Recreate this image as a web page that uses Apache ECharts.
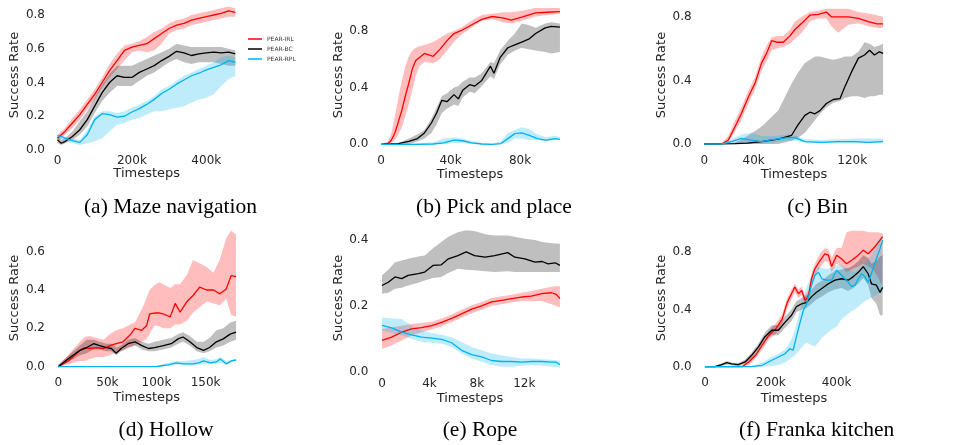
<!DOCTYPE html>
<html><head><meta charset="utf-8">
<script src="https://cdn.jsdelivr.net/npm/echarts@6/dist/echarts.min.js"></script>
<style>html,body{margin:0;padding:0;background:#fff}#c{width:977px;height:445px}</style>
</head><body><div id="c"></div>
<script>
// ---------- DATA (x in thousands of timesteps): [x, mean, lower, upper] ----------
const seriesNames = ['PEAR-IRL', 'PEAR-BC', 'PEAR-RPL'];

const mazeIRL = [[0,0.07,0.05,0.09],[10,0.09,0.07,0.11],[20,0.11,0.09,0.13],[40,0.16,0.13,0.19],[60,0.21,0.18,0.24],[80,0.27,0.24,0.30],[100,0.33,0.30,0.36],[120,0.40,0.37,0.43],[140,0.47,0.43,0.51],[160,0.53,0.48,0.57],[180,0.59,0.53,0.62],[200,0.61,0.58,0.63],[220,0.62,0.59,0.645],[240,0.63,0.58,0.67],[260,0.66,0.59,0.70],[280,0.69,0.63,0.72],[300,0.72,0.69,0.75],[320,0.74,0.71,0.77],[340,0.75,0.72,0.78],[360,0.77,0.74,0.80],[380,0.78,0.75,0.81],[400,0.79,0.76,0.82],[420,0.80,0.77,0.83],[440,0.81,0.78,0.84],[460,0.825,0.79,0.85],[478,0.815,0.79,0.84]];
const mazeBC = [[0,0.06,0.04,0.08],[10,0.04,0.03,0.06],[20,0.05,0.04,0.07],[40,0.08,0.06,0.11],[60,0.12,0.09,0.17],[80,0.18,0.14,0.23],[100,0.26,0.22,0.31],[120,0.34,0.29,0.39],[140,0.40,0.34,0.45],[160,0.44,0.38,0.50],[180,0.43,0.38,0.50],[200,0.43,0.38,0.50],[220,0.46,0.41,0.52],[240,0.48,0.44,0.54],[260,0.50,0.46,0.56],[280,0.53,0.49,0.58],[300,0.555,0.52,0.60],[320,0.585,0.54,0.63],[340,0.575,0.52,0.62],[360,0.56,0.51,0.61],[380,0.57,0.52,0.61],[400,0.575,0.52,0.61],[420,0.58,0.52,0.61],[440,0.575,0.51,0.61],[460,0.58,0.50,0.60],[478,0.57,0.50,0.59]];
const mazeRPL = [[0,0.085,0.07,0.09],[10,0.08,0.06,0.09],[20,0.07,0.05,0.08],[40,0.055,0.04,0.07],[60,0.045,0.03,0.06],[80,0.09,0.04,0.12],[100,0.18,0.05,0.20],[120,0.215,0.07,0.23],[140,0.21,0.11,0.23],[160,0.195,0.15,0.22],[180,0.20,0.16,0.23],[200,0.225,0.18,0.25],[220,0.245,0.19,0.27],[240,0.27,0.21,0.29],[260,0.30,0.23,0.32],[280,0.335,0.23,0.36],[300,0.36,0.24,0.38],[320,0.39,0.25,0.41],[340,0.415,0.26,0.44],[360,0.44,0.28,0.46],[380,0.455,0.30,0.48],[400,0.475,0.31,0.50],[420,0.49,0.33,0.52],[440,0.505,0.38,0.55],[460,0.53,0.42,0.56],[478,0.52,0.44,0.55]];

const pickIRL = [[0,0,0,0],[4,0.005,0,0.02],[6,0.03,0.01,0.08],[8,0.08,0.03,0.20],[10,0.16,0.07,0.33],[12,0.24,0.12,0.45],[14,0.34,0.20,0.55],[16,0.43,0.28,0.62],[18,0.53,0.38,0.66],[20,0.59,0.48,0.68],[22,0.61,0.55,0.69],[25,0.64,0.58,0.70],[30,0.62,0.57,0.72],[34,0.67,0.60,0.75],[38,0.73,0.66,0.78],[42,0.78,0.72,0.80],[46,0.80,0.77,0.82],[52,0.84,0.82,0.87],[58,0.88,0.87,0.91],[64,0.90,0.88,0.92],[70,0.89,0.86,0.93],[75,0.875,0.85,0.93],[81,0.895,0.87,0.94],[89,0.925,0.90,0.96],[96,0.93,0.91,0.96],[103,0.935,0.92,0.96]];
const pickBC = [[0,0,0,0],[10,0.005,0,0.01],[16,0.02,0,0.04],[21,0.04,0.02,0.07],[25,0.08,0.04,0.10],[29,0.15,0.08,0.18],[32,0.22,0.14,0.26],[35,0.31,0.22,0.34],[38,0.30,0.25,0.36],[42,0.35,0.28,0.40],[44.5,0.32,0.27,0.41],[47,0.38,0.33,0.44],[51,0.42,0.37,0.47],[54,0.41,0.36,0.47],[58,0.45,0.41,0.50],[63,0.55,0.48,0.58],[65,0.50,0.46,0.57],[68.5,0.61,0.56,0.66],[73,0.68,0.63,0.73],[77,0.70,0.66,0.78],[81,0.72,0.68,0.85],[85,0.74,0.67,0.84],[89,0.78,0.66,0.82],[94.5,0.82,0.65,0.85],[98,0.83,0.64,0.86],[103,0.825,0.65,0.85]];
const pickRPL = [[0,0,0,0],[20,0,0,0.005],[30,0.002,0,0.015],[36,0.01,0,0.04],[42,0.03,0.01,0.05],[47,0.025,0.01,0.04],[52,0.01,0,0.025],[58,0.002,0,0.01],[64,0,0,0.005],[69,0.005,0,0.02],[73,0.04,0.01,0.08],[77,0.075,0.04,0.10],[81,0.08,0.04,0.12],[85,0.065,0.03,0.11],[90,0.04,0.03,0.07],[95,0.03,0.02,0.05],[100,0.04,0.03,0.06],[103,0.035,0.03,0.05]];

const binIRL = [[0,0,0,0],[14,0,0,0.005],[19.5,0.025,0.01,0.05],[25,0.11,0.08,0.15],[30,0.19,0.15,0.23],[36,0.30,0.26,0.34],[41,0.38,0.34,0.42],[46.5,0.51,0.46,0.55],[50.5,0.57,0.52,0.62],[54.6,0.65,0.59,0.67],[58.6,0.64,0.60,0.68],[64,0.64,0.61,0.68],[69.5,0.68,0.63,0.72],[73.5,0.72,0.66,0.77],[79,0.76,0.70,0.80],[85.7,0.81,0.77,0.83],[92.4,0.815,0.79,0.84],[99,0.83,0.79,0.85],[103,0.80,0.74,0.85],[108.6,0.80,0.70,0.85],[116.8,0.80,0.75,0.85],[125,0.79,0.76,0.83],[133,0.77,0.74,0.82],[140,0.755,0.73,0.81],[145,0.755,0.73,0.80]];
const binBC = [[0,0,0,0],[25,0.002,0,0.01],[35,0.005,0,0.05],[46.5,0.015,0,0.11],[60,0.03,0,0.21],[70.8,0.055,0.02,0.38],[76,0.12,0.04,0.45],[81.6,0.18,0.07,0.51],[85.7,0.20,0.11,0.53],[89.7,0.19,0.15,0.55],[93.8,0.21,0.19,0.55],[99,0.255,0.23,0.54],[104.6,0.28,0.26,0.53],[110,0.285,0.27,0.54],[114,0.36,0.29,0.55],[119.5,0.455,0.30,0.55],[125,0.54,0.30,0.58],[130,0.56,0.29,0.64],[134,0.59,0.30,0.63],[138,0.56,0.30,0.61],[142,0.58,0.31,0.62],[145,0.57,0.31,0.63]];
const binRPL = [[0,0,0,0],[14,0,0,0.005],[22,0.015,0,0.03],[30,0.035,0.01,0.06],[38,0.025,0,0.07],[46.5,0.015,0,0.05],[57,0.03,0.01,0.05],[68,0.04,0.02,0.06],[73.5,0.04,0.02,0.055],[81.6,0.015,0.01,0.03],[95,0.01,0.005,0.025],[108.6,0.015,0.005,0.03],[122,0.015,0.005,0.035],[133,0.01,0.005,0.035],[145,0.015,0.01,0.035]];

const hollowIRL = [[0,0,0,0.01],[8.5,0.025,0.01,0.05],[15,0.05,0.02,0.09],[22,0.085,0.03,0.13],[27,0.10,0.03,0.155],[32,0.095,0.04,0.16],[39,0.10,0.05,0.15],[46,0.095,0.05,0.14],[52.6,0.11,0.06,0.17],[59,0.12,0.075,0.19],[66,0.13,0.085,0.20],[73,0.165,0.10,0.22],[78,0.20,0.11,0.23],[85,0.19,0.13,0.30],[90,0.215,0.145,0.36],[93,0.275,0.17,0.40],[98,0.28,0.215,0.425],[103,0.28,0.21,0.44],[107,0.275,0.20,0.43],[114,0.26,0.20,0.41],[119,0.33,0.22,0.43],[124,0.285,0.22,0.43],[131,0.34,0.24,0.48],[137,0.37,0.28,0.555],[144,0.415,0.31,0.54],[151,0.40,0.34,0.52],[158,0.40,0.33,0.49],[164.6,0.38,0.32,0.56],[171,0.405,0.355,0.67],[176,0.475,0.27,0.71],[181,0.47,0.26,0.69]];
const hollowBC = [[0,0,0,0.01],[8.5,0.035,0.02,0.05],[15,0.06,0.04,0.08],[22,0.085,0.06,0.11],[29,0.10,0.07,0.14],[36,0.12,0.09,0.14],[42,0.11,0.09,0.13],[49,0.10,0.08,0.12],[54,0.095,0.08,0.12],[59,0.07,0.06,0.10],[64,0.095,0.08,0.11],[71,0.12,0.10,0.14],[78,0.13,0.11,0.15],[85,0.11,0.09,0.13],[92,0.095,0.08,0.12],[98,0.10,0.08,0.13],[107,0.11,0.09,0.14],[115,0.12,0.10,0.15],[122,0.145,0.12,0.17],[127,0.155,0.13,0.18],[134,0.13,0.11,0.16],[141,0.10,0.08,0.13],[148,0.085,0.07,0.13],[154,0.10,0.08,0.15],[161,0.13,0.10,0.19],[168,0.145,0.11,0.20],[175,0.17,0.13,0.23],[181,0.18,0.14,0.24]];
const hollowRPL = [[0,0,0,0],[100,0,0,0.002],[105,0.005,0,0.01],[112,0.01,0.005,0.02],[120,0.02,0.01,0.03],[128,0.015,0.01,0.03],[137,0.015,0.005,0.035],[143,0.02,0.01,0.04],[148,0.03,0.015,0.05],[155,0.02,0.015,0.035],[161,0.025,0.015,0.04],[165,0.04,0.02,0.05],[171,0.015,0.01,0.03],[176,0.03,0.02,0.035],[181,0.035,0.03,0.04]];

const ropeIRL = [[0,0.095,0.07,0.13],[0.81,0.105,0.08,0.135],[1.66,0.12,0.095,0.14],[2.5,0.13,0.11,0.145],[3.34,0.134,0.12,0.148],[4.19,0.14,0.128,0.152],[5.03,0.15,0.138,0.162],[5.87,0.162,0.15,0.174],[6.71,0.176,0.164,0.188],[7.56,0.19,0.178,0.202],[8.4,0.20,0.188,0.212],[9.24,0.212,0.2,0.224],[10.08,0.217,0.205,0.229],[10.93,0.222,0.21,0.234],[11.77,0.227,0.215,0.24],[12.6,0.23,0.215,0.245],[13.46,0.237,0.215,0.252],[14.3,0.24,0.205,0.258],[14.7,0.235,0.2,0.26],[15,0.222,0.195,0.26]];
const ropeBC = [[0,0.262,0.237,0.293],[0.53,0.272,0.24,0.31],[1.1,0.288,0.252,0.333],[1.66,0.283,0.255,0.338],[2.2,0.293,0.262,0.343],[3.06,0.298,0.27,0.35],[3.6,0.303,0.277,0.353],[4.3,0.323,0.285,0.375],[5.0,0.325,0.288,0.394],[5.6,0.343,0.30,0.41],[6.4,0.353,0.313,0.424],[7.1,0.364,0.31,0.43],[7.8,0.353,0.308,0.428],[8.7,0.348,0.305,0.418],[9.5,0.353,0.303,0.414],[10.6,0.362,0.305,0.414],[11.2,0.348,0.303,0.41],[12.05,0.343,0.303,0.404],[12.9,0.333,0.303,0.40],[13.5,0.335,0.303,0.394],[14.0,0.328,0.303,0.392],[14.6,0.331,0.303,0.39],[15,0.323,0.303,0.389]];
const ropeRPL = [[0,0.141,0.125,0.165],[0.81,0.133,0.118,0.162],[1.66,0.12,0.11,0.16],[2.5,0.112,0.10,0.14],[3.34,0.105,0.09,0.125],[4.19,0.102,0.088,0.118],[5.03,0.098,0.085,0.112],[5.87,0.088,0.075,0.105],[6.71,0.065,0.055,0.09],[7.56,0.052,0.04,0.075],[8.4,0.045,0.03,0.065],[9.24,0.034,0.02,0.055],[10.08,0.031,0.015,0.05],[10.93,0.031,0.015,0.045],[11.77,0.029,0.018,0.04],[12.6,0.031,0.02,0.04],[13.46,0.031,0.018,0.038],[14.3,0.029,0.015,0.036],[14.7,0.029,0.015,0.035],[15,0.021,0.012,0.033]];

const kitchenIRL = [[0,0,0,0],[113,0,0,0.01],[133,0.033,0.01,0.05],[154,0.08,0.06,0.10],[174,0.15,0.12,0.17],[194,0.22,0.19,0.25],[215,0.265,0.23,0.30],[235,0.335,0.30,0.37],[250,0.45,0.41,0.48],[263,0.51,0.47,0.54],[273,0.557,0.52,0.58],[284,0.51,0.48,0.54],[294,0.534,0.50,0.56],[304,0.465,0.44,0.50],[314,0.49,0.46,0.53],[324,0.616,0.58,0.65],[334,0.685,0.64,0.72],[349,0.74,0.69,0.79],[365,0.79,0.74,0.83],[375,0.78,0.73,0.82],[385,0.70,0.66,0.76],[400,0.78,0.72,0.83],[415,0.755,0.70,0.83],[430,0.72,0.66,0.94],[446,0.745,0.68,0.95],[466,0.78,0.70,0.95],[481,0.815,0.72,0.95],[496,0.79,0.70,0.94],[511,0.825,0.68,0.94],[527,0.87,0.62,0.94],[540,0.91,0.56,0.93]];
const kitchenBC = [[0,0,0,0],[30,0,0,0.005],[51,0.015,0.005,0.025],[66,0.028,0.015,0.04],[81,0.02,0.01,0.03],[101,0.015,0.005,0.025],[122,0.033,0.02,0.05],[142,0.08,0.06,0.10],[162,0.137,0.11,0.16],[182,0.21,0.18,0.24],[203,0.255,0.22,0.29],[223,0.255,0.22,0.29],[243,0.31,0.27,0.35],[263,0.36,0.32,0.40],[278,0.42,0.38,0.46],[294,0.44,0.40,0.48],[309,0.45,0.41,0.50],[324,0.49,0.44,0.54],[339,0.52,0.47,0.58],[354,0.545,0.49,0.60],[375,0.58,0.52,0.64],[395,0.605,0.54,0.67],[415,0.615,0.55,0.68],[435,0.605,0.53,0.69],[451,0.63,0.55,0.71],[466,0.66,0.58,0.74],[481,0.70,0.62,0.78],[496,0.65,0.57,0.76],[506,0.58,0.48,0.72],[521,0.57,0.44,0.74],[532,0.52,0.36,0.77],[540,0.555,0.36,0.78]];
const kitchenRPL = [[0,0,0,0],[142,0,0,0.005],[174,0.01,0,0.03],[203,0.045,0.005,0.07],[223,0.068,0.01,0.09],[243,0.09,0.03,0.12],[258,0.125,0.05,0.17],[268,0.115,0.07,0.22],[278,0.21,0.09,0.30],[289,0.31,0.12,0.40],[299,0.395,0.15,0.48],[309,0.44,0.17,0.56],[324,0.57,0.15,0.64],[334,0.64,0.14,0.70],[345,0.66,0.17,0.70],[355,0.615,0.20,0.69],[370,0.605,0.23,0.685],[385,0.605,0.26,0.69],[400,0.675,0.28,0.71],[415,0.64,0.33,0.71],[430,0.605,0.36,0.69],[446,0.56,0.39,0.67],[456,0.57,0.40,0.66],[466,0.615,0.42,0.68],[476,0.65,0.44,0.70],[486,0.63,0.46,0.72],[496,0.59,0.47,0.75],[511,0.685,0.49,0.80],[521,0.755,0.50,0.87],[532,0.825,0.52,0.90],[540,0.885,0.53,0.92]];

// tick labels
const mazeXTicks = [0, 200, 400],   mazeYTicks = [0, 0.2, 0.4, 0.6, 0.8];
const pickXTicks = [0, 40, 80],     pickYTicks = [0, 0.4, 0.8];
const binXTicks = [0, 40, 80, 120], binYTicks = [0, 0.4, 0.8];
const hollowXTicks = [0, 50, 100, 150], hollowYTicks = [0, 0.2, 0.4, 0.6];
const ropeXTicks = [0, 4, 8, 12],   ropeYTicks = [0, 0.2, 0.4];
const kitchenXTicks = [0, 200, 400], kitchenYTicks = [0, 0.4, 0.8];
const captions = ['(a) Maze navigation', '(b) Pick and place', '(c) Bin', '(d) Hollow', '(e) Rope', '(f) Franka kitchen'];

// ---------- LAYOUT (pixel anchors) ----------
const panels = [
  {data:[mazeIRL,mazeBC,mazeRPL], xt:mazeXTicks, yt:mazeYTicks, x0:57.5, kx:0.372, y0:150, ky:168.75, yLabR:45, xLabY:161.7, xMax:490, yMax:0.87, cap:[170.5,207.3], xt_t:[146.7,174], yt_t:[15,75]},
  {data:[pickIRL,pickBC,pickRPL], xt:pickXTicks, yt:pickYTicks, x0:381, kx:1.7375, y0:144.3, ky:142, yLabR:368.3, xLabY:161.7, xMax:106, yMax:0.98, cap:[494,207.3], xt_t:[470,175], yt_t:[338.3,75]},
  {data:[binIRL,binBC,binRPL], xt:binXTicks, yt:binYTicks, x0:704.3, kx:1.233, y0:144, ky:159, yLabR:691.7, xLabY:161, xMax:149, yMax:0.87, cap:[817.5,207.3], xt_t:[794,175], yt_t:[661.7,75]},
  {data:[hollowIRL,hollowBC,hollowRPL], xt:hollowXTicks, yt:hollowYTicks, x0:58.3, kx:0.982, y0:366.7, ky:191.7, yLabR:45, xLabY:383.3, xMax:186, yMax:0.73, cap:[166,430.7], xt_t:[146.7,397.3], yt_t:[15,298]},
  {data:[ropeIRL,ropeBC,ropeRPL], xt:ropeXTicks, yt:ropeYTicks, x0:382, kx:11.86, y0:371.7, ky:329, yLabR:368.3, xLabY:384, xMax:15.4, yMax:0.44, cap:[480,430.7], xt_t:[470,398.3], yt_t:[338.3,298]},
  {data:[kitchenIRL,kitchenBC,kitchenRPL], xt:kitchenXTicks, yt:kitchenYTicks, x0:705, kx:0.329, y0:366.7, ky:143, yLabR:691.7, xLabY:383.3, xMax:555, yMax:0.97, cap:[816.7,430.7], xt_t:[794,398.3], yt_t:[661.7,298]}
];

const lineColors = ['#ff0000', '#000000', '#00b2ee'];
const bandColors = ['rgba(255,0,0,0.26)', 'rgba(0,0,0,0.25)', 'rgba(0,178,238,0.25)'];
const tickColor = '#262626';
const FONT = '"DejaVu Sans", sans-serif';

const grids = [], xAxes = [], yAxes = [], series = [], graphics = [];
panels.forEach((p, i) => {
  const left = p.yLabR + 4;
  const right = p.x0 + p.xMax * p.kx;
  const xMin = (left - p.x0) / p.kx;
  const bottom = p.xLabY - 10.5;
  const top = p.y0 - p.yMax * p.ky;
  const yMin = -(bottom - p.y0) / p.ky;
  grids.push({left: left, top: top, width: right - left, height: bottom - top});
  xAxes.push({type:'value', gridIndex:i, min:xMin, max:p.xMax,
    axisLine:{show:false}, axisTick:{show:false}, splitLine:{show:false},
    axisLabel:{customValues:p.xt, margin:4, color:tickColor, fontSize:12, fontFamily:FONT,
      formatter: v => (Math.abs(v) < 1e-9 ? '0' : Math.round(v) + 'k')}});
  yAxes.push({type:'value', gridIndex:i, min:yMin, max:p.yMax,
    axisLine:{show:false}, axisTick:{show:false}, splitLine:{show:false},
    axisLabel:{customValues:p.yt, margin:4, color:tickColor, fontSize:12, fontFamily:FONT,
      formatter: v => v.toFixed(1)}});
  p.data.forEach((rows, s) => {
    series.push({type:'custom', xAxisIndex:i, yAxisIndex:i, silent:true, z:1, animation:false,
      data:[[rows[0][0], rows[0][1]]],
      renderItem: (params, api) => {
        const up = rows.map(r => api.coord([r[0], r[3]]));
        const lo = rows.slice().reverse().map(r => api.coord([r[0], r[2]]));
        return {type:'polygon', shape:{points: up.concat(lo)}, style:{fill: bandColors[s]}};
      }});
  });
  p.data.forEach((rows, s) => {
    series.push({type:'line', name:seriesNames[s], xAxisIndex:i, yAxisIndex:i, silent:true, z:3 + s,
      data: rows.map(r => [r[0], r[1]]), showSymbol:false, symbol:'none', clip:false,
      lineStyle:{color:lineColors[s], width:1.3}, itemStyle:{color:lineColors[s]}});
  });
  graphics.push({type:'text', x:p.yt_t[0], y:p.yt_t[1], rotation:Math.PI/2,
    style:{text:'Success Rate', fill:tickColor, font:'13px ' + FONT, align:'center', verticalAlign:'middle'}});
  graphics.push({type:'text', x:p.xt_t[0], y:p.xt_t[1],
    style:{text:'Timesteps', fill:tickColor, font:'13px ' + FONT, align:'center', verticalAlign:'middle'}});
  graphics.push({type:'text', x:p.cap[0], y:p.cap[1],
    style:{text:captions[i], fill:'#000', font:'21.5px "Liberation Serif", serif', align:'center', verticalAlign:'middle'}});
});

const chart = echarts.init(document.getElementById('c'), null, {renderer:'canvas'});
chart.setOption({
  animation:false,
  backgroundColor:'#ffffff',
  grid:grids, xAxis:xAxes, yAxis:yAxes, series:series,
  legend:{data:seriesNames, orient:'vertical', left:248, top:36, padding:0, itemGap:4,
    icon:'rect', itemWidth:14, itemHeight:1.5, textStyle:{fontSize:6, color:'#333', fontFamily:FONT}},
  graphic:graphics
});
</script>
</body></html>
